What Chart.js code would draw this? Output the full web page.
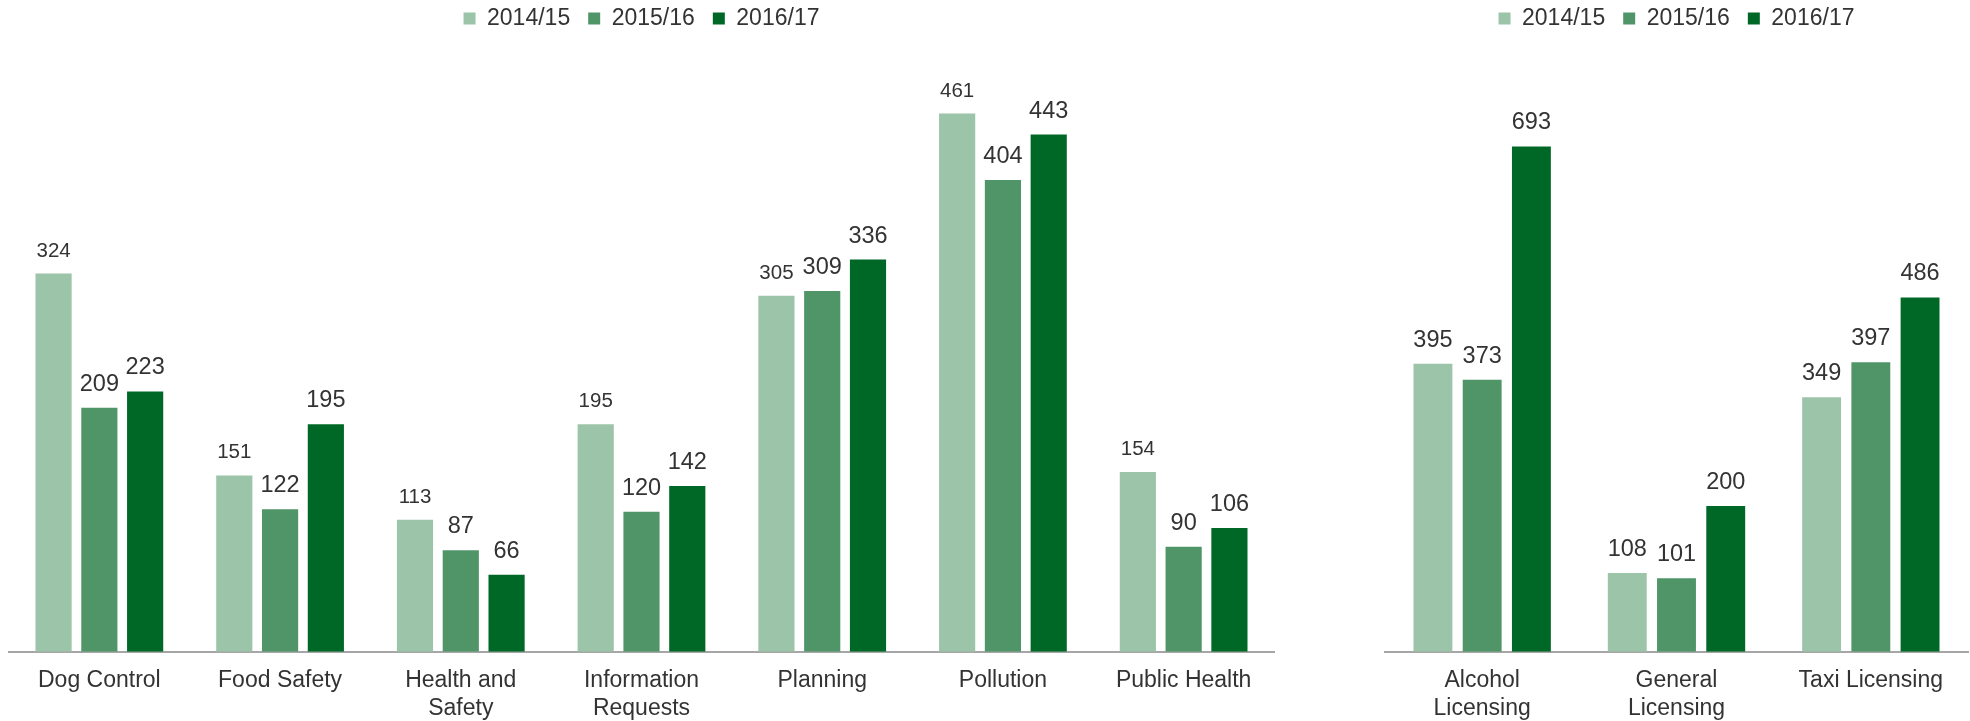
<!DOCTYPE html>
<html>
<head>
<meta charset="utf-8">
<script src="https://cdn.jsdelivr.net/npm/chart.js@4"></script>
<style>
  html, body { margin: 0; padding: 0; background: #fff; }
  body { width: 1970px; height: 721px; position: relative; overflow: hidden; }
  .box { position: absolute; top: 0; height: 721px; }
  #left { left: 0; width: 1290px; }
  #right { left: 1370px; width: 600px; }
</style>
</head>
<body>
<div class="box" id="left"><canvas id="serviceChart"></canvas></div>
<div class="box" id="right"><canvas id="licensingChart"></canvas></div>
<script>
  const years = ['2014/15', '2015/16', '2016/17'];
  const colours = ['#9cc4a8', '#509568', '#006826'];

  const serviceLabels = [
    'Dog Control',
    'Food Safety',
    ['Health and', 'Safety'],
    ['Information', 'Requests'],
    'Planning',
    'Pollution',
    'Public Health',
  ];
  const service1415 = [324, 151, 113, 195, 305, 461, 154];
  const service1516 = [209, 122, 87, 120, 309, 404, 90];
  const service1617 = [223, 195, 66, 142, 336, 443, 106];

  const licensingLabels = [
    ['Alcohol', 'Licensing'],
    ['General', 'Licensing'],
    'Taxi Licensing',
  ];
  const licensing1415 = [395, 108, 349];
  const licensing1516 = [373, 101, 397];
  const licensing1617 = [693, 200, 486];

  const fontFamily = '"Liberation Sans", Arial, sans-serif';
  const textColour = '#333333';

  // numbers above each bar
  const valueLabels = {
    id: 'valueLabels',
    afterDatasetsDraw(chart, args, opts) {
      const ctx = chart.ctx;
      ctx.save();
      ctx.fillStyle = textColour;
      ctx.textAlign = 'center';
      ctx.textBaseline = 'alphabetic';
      chart.data.datasets.forEach((ds, i) => {
        ctx.font = opts.sizes[i] + 'px ' + fontFamily;
        chart.getDatasetMeta(i).data.forEach((bar, j) => {
          ctx.fillText(ds.data[j], bar.x, bar.y - 17);
        });
      });
      ctx.restore();
    }
  };

  function makeData(labels, series) {
    return {
      labels: labels,
      datasets: series.map((values, i) => ({
        label: years[i],
        data: values,
        backgroundColor: colours[i],
        borderWidth: 0,
        barPercentage: 0.79,
        categoryPercentage: 0.76,
      }))
    };
  }

  function makeConfig(data, yMax, padding, labelSizes) {
    return {
      type: 'bar',
      data: data,
      plugins: [valueLabels],
      options: {
        responsive: true,
        maintainAspectRatio: false,
        animation: false,
        layout: { padding: padding },
        plugins: {
          legend: {
            position: 'top',
            labels: {
              boxWidth: 12,
              boxHeight: 12,
              padding: 18,
              color: textColour,
              font: { family: fontFamily, size: 23 },
            }
          },
          tooltip: { enabled: false },
          valueLabels: { sizes: labelSizes },
        },
        scales: {
          x: {
            grid: { display: false, drawTicks: false },
            border: { display: true, color: '#a6a6a6', width: 2 },
            ticks: {
              color: textColour,
              padding: 15,
              autoSkip: false,
              maxRotation: 0,
              font: { family: fontFamily, size: 23, lineHeight: 1.2 },
            }
          },
          y: {
            display: false,
            min: 0,
            max: yMax,
          }
        }
      }
    };
  }

  const serviceChart = new Chart(
    document.getElementById('serviceChart'),
    makeConfig(
      makeData(serviceLabels, [service1415, service1516, service1617]),
      524,
      { top: -11, left: 9, right: 16, bottom: -16 },
      [20.5, 23.5, 23.5]
    )
  );

  const licensingChart = new Chart(
    document.getElementById('licensingChart'),
    makeConfig(
      makeData(licensingLabels, [licensing1415, licensing1516, licensing1617]),
      839,
      { top: -11, left: 15, right: 2, bottom: -16 },
      [23.5, 23.5, 23.5]
    )
  );
</script>
</body>
</html>
